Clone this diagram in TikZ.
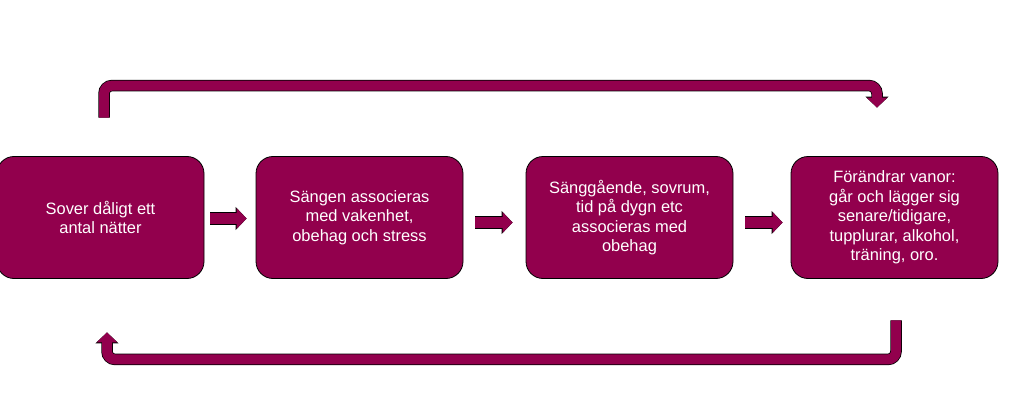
\documentclass[tikz,border=0pt]{standalone}
\usepackage{fontspec}
\setmainfont{Liberation Sans}
\usetikzlibrary{arrows.meta,positioning}
\definecolor{wine}{RGB}{146,0,77}

\begin{document}
\begin{tikzpicture}[
    x=1bp,y=1bp,
    stage/.style={
        draw=black, line width=0.8bp,
        rectangle, rounded corners=17bp,
        fill=wine,
        minimum width=207bp,
        minimum height=122bp,
        align=center,
        font=\fontsize{16.5}{19.5}\selectfont,
        text=white
    },
    push/.style={
        draw=wine, line width=11bp,
        -{Triangle[length=10bp,width=20bp]},
        preaction={draw=black, line width=12.5bp, -{Triangle[length=11bp,width=22.5bp]}}
    },
    bent/.style={
        draw=wine, line width=10bp,
        rounded corners=8bp,
        -{Triangle[length=10bp,width=20bp]},
        preaction={draw=black, line width=11.5bp, -{Triangle[length=11bp,width=22.5bp]}}
    }
]
\useasboundingbox (0,0) rectangle (1024,416);

% ====== rutor ======
\node[stage] (sover)  at (100.5,198.5) {Sover dåligt ett\\antal nätter};
\node[stage] (sangen) at (359.5,198.5) {Sängen associeras\\med vakenhet,\\obehag och stress};
\node[stage] (obehag) at (629.5,198.5) {Sänggående, sovrum,\\tid på dygn etc\\associeras med\\obehag};
\node[stage] (vanor)  at (894.5,198.5) {Förändrar vanor:\\går och lägger sig\\senare/tidigare,\\tupplurar, alkohol,\\träning, oro.};

% små pilar mellan rutorna
\draw[push] ([xshift=6bp,yshift=-1bp]sover.east) -- ([xshift=-9bp,yshift=-1bp]sangen.west);
\draw[push] ([xshift=12bp,yshift=-5bp]sangen.east) -- ([xshift=-13bp,yshift=-5bp]obehag.west);
\draw[push] ([xshift=12bp,yshift=-5bp]obehag.east) -- ([xshift=-8bp,yshift=-5bp]vanor.west);

% ====== böjda pilar ======
\coordinate (topstart) at ([xshift=3.5bp,yshift=38.5bp]sover.north);
\coordinate (topend)   at ([xshift=-17.5bp,yshift=48.5bp]vanor.north);
\coordinate (botstart) at ([xshift=1.5bp,yshift=-41.5bp]vanor.south);
\coordinate (botend)   at ([xshift=6.5bp,yshift=-53.5bp]sover.south);

\draw[bent] (topstart) -- ++(0,32) -| (topend);
\draw[bent] (botstart) -- ++(0,-39) -| (botend);

\end{tikzpicture}
\end{document}
